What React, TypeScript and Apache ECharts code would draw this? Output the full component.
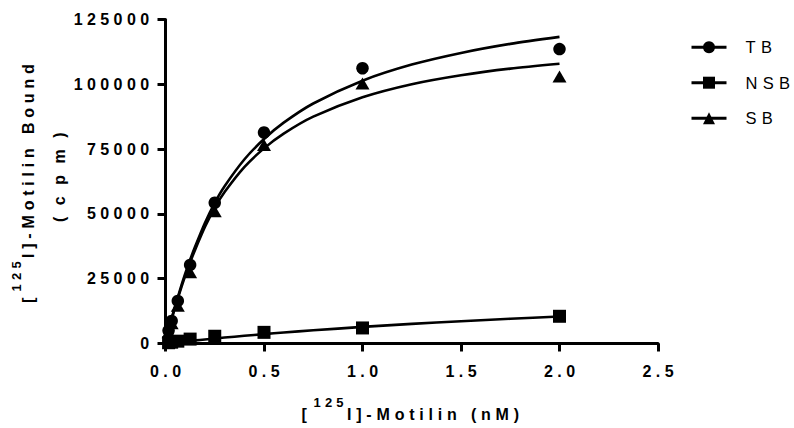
import React, { useEffect, useRef } from "react";
import * as echarts from "echarts";

// Measured concentrations (nM) and bound counts (cpm)
const concentrations = [0.0156, 0.03125, 0.0625, 0.125, 0.25, 0.5, 1, 2];
const tbValues = [5000, 8700, 16400, 30300, 54300, 81400, 106200, 113600];
const nsbValues = [300, 500, 900, 1700, 2800, 4300, 6000, 10500];
const sbValues = [4300, 7800, 14600, 27500, 51000, 76600, 100300, 103000];

// Fitted curves
const fitX = [0, 0.01, 0.02, 0.03, 0.045, 0.0625, 0.08, 0.1, 0.125, 0.15, 0.2, 0.25, 0.3, 0.4, 0.5, 0.6, 0.75, 1.0, 1.25, 1.5, 1.75, 2.0];
const tbFit = [0, 3200, 6300, 9250, 13400, 17900, 22200, 26900, 32300, 37300, 46500, 54300, 60700, 71000, 78900, 85200, 92600, 101400, 107600, 112100, 115600, 118300];
const nsbFit = [0, 80, 170, 250, 370, 510, 650, 810, 1000, 1190, 1570, 1930, 2290, 2970, 3620, 4230, 5090, 6400, 7560, 8600, 9540, 10390];
const sbFit = [0, 3120, 6130, 9000, 13030, 17390, 21550, 26090, 31300, 36110, 44930, 52370, 58410, 68030, 75280, 80970, 87510, 95000, 100040, 103500, 106060, 107910];

const xTicks = [0, 0.5, 1, 1.5, 2, 2.5];
const yTicks = [0, 25000, 50000, 75000, 100000, 125000];
const legendNames = ["TB", "NSB", "SB"];

const FONT = "Liberation Sans";
const BLACK = "#000000";

const css = `
.chartwrap text { letter-spacing: 5.3px; }
.chartwrap text[style*="bold"] { letter-spacing: 4.4px; }
.chartwrap text[style*="Cousine"] { letter-spacing: 4.8px; }
.chartwrap text[style*="Tinos"] { letter-spacing: 4.2px; }
.chartwrap text[style*="Arimo"] { letter-spacing: 11.5px; }
`;

function pairs(xs: number[], ys: number[]) {
  return xs.map((x, i) => [x, ys[i]]);
}

export default function App() {
  const ref = useRef<HTMLDivElement>(null);
  useEffect(() => {
    if (!ref.current) return;
    const chart = echarts.init(ref.current, null, { renderer: "svg", width: 794, height: 428 });
    const lineSeries = (name: string, symbol: string, data: number[][]) => ({
      name,
      type: "line",
      data,
      symbol,
      showSymbol: false,
      smooth: 0.25,
      lineStyle: { color: BLACK, width: 2.6 },
      itemStyle: { color: BLACK },
      z: 2,
      silent: true,
    });
    const pointSeries = (name: string, symbol: string, size: any, data: number[][]) => ({
      name,
      type: "scatter",
      data,
      symbol,
      symbolSize: size,
      itemStyle: { color: BLACK, opacity: 1 },
      z: 3,
      silent: true,
    });
    const titleFont = `bold 16px ${FONT}, Cousine`;
    const supFont = `bold 13px ${FONT}, Tinos`;
    const txt = (text: string, x: number, y: number, font: string) => ({
      type: "text",
      x,
      y,
      style: {
        text,
        font,
        fill: BLACK,
        align: "left",
        verticalAlign: "middle",
        textAlign: "left",
        textVerticalAlign: "middle",
      },
    });
    chart.setOption({
      animation: false,
      backgroundColor: "#ffffff",
      grid: { left: 165.5, right: 136, top: 19.5, bottom: 84.5, containLabel: false, outerBoundsMode: "none" },
      xAxis: {
        type: "value",
        min: xTicks[0],
        max: xTicks[xTicks.length - 1],
        interval: 0.5,
        axisLine: { show: true, onZero: false, lineStyle: { color: BLACK, width: 3 } },
        axisTick: { show: true, length: 8, lineStyle: { color: BLACK, width: 3 } },
        splitLine: { show: false },
        axisLabel: {
          color: BLACK,
          fontFamily: FONT,
          fontWeight: "bold",
          fontSize: 16,
          margin: 19.5,
          padding: [0, 0, 0, 4.4],
          formatter: (v: number) => v.toFixed(1),
        },
      },
      yAxis: {
        type: "value",
        min: yTicks[0],
        max: yTicks[yTicks.length - 1],
        interval: 25000,
        axisLine: { show: true, onZero: false, lineStyle: { color: BLACK, width: 3 } },
        axisTick: { show: true, length: 8, lineStyle: { color: BLACK, width: 3 } },
        splitLine: { show: false },
        axisLabel: {
          color: BLACK,
          fontFamily: FONT,
          fontWeight: "bold",
          fontSize: 16,
          margin: 12,
          formatter: (v: number) => String(v),
        },
      },
      legend: {
        data: legendNames,
        orient: "vertical",
        left: 690,
        top: 38.7,
        padding: 0,
        itemWidth: 35,
        itemHeight: 15,
        itemGap: 18.5,
        selectedMode: false,
        lineStyle: { width: 3, color: BLACK },
        itemStyle: { color: BLACK },
        textStyle: { color: BLACK, fontFamily: FONT, fontSize: 16.5, padding: [0, 0, 0, 14] },
      },
      series: [
        lineSeries("TB", "circle", pairs(fitX, tbFit)),
        lineSeries("NSB", "rect", pairs(fitX, nsbFit)),
        lineSeries("SB", "triangle", pairs(fitX, sbFit)),
        pointSeries("SB points", "triangle", [14, 12], pairs(concentrations, sbValues)),
        pointSeries("NSB points", "rect", 13, pairs(concentrations, nsbValues)),
        pointSeries("TB points", "circle", 12.5, pairs(concentrations, tbValues)),
      ],
      graphic: [
        txt("[", 301.5, 414, titleFont),
        txt("125", 313.5, 402.5, supFont),
        txt("I]-Motilin (nM)", 347, 414, titleFont),
        {
          type: "group",
          x: 28,
          y: 303,
          rotation: Math.PI / 2,
          children: [
            txt("[", 0, 0, titleFont),
            txt("125", 11.6, -11.7, supFont),
            txt("I]-Motilin Bound", 45, 0, titleFont),
            txt("(cpm)", 81, 31.5, `bold 16px ${FONT}, Arimo`),
          ],
        },
      ],
    });
    return () => chart.dispose();
  }, []);
  return (
    <div className="chartwrap" style={{ position: "fixed", left: 0, top: 0, width: 794, height: 428 }}>
      <style>{css}</style>
      <div ref={ref} style={{ width: 794, height: 428 }} />
    </div>
  );
}
